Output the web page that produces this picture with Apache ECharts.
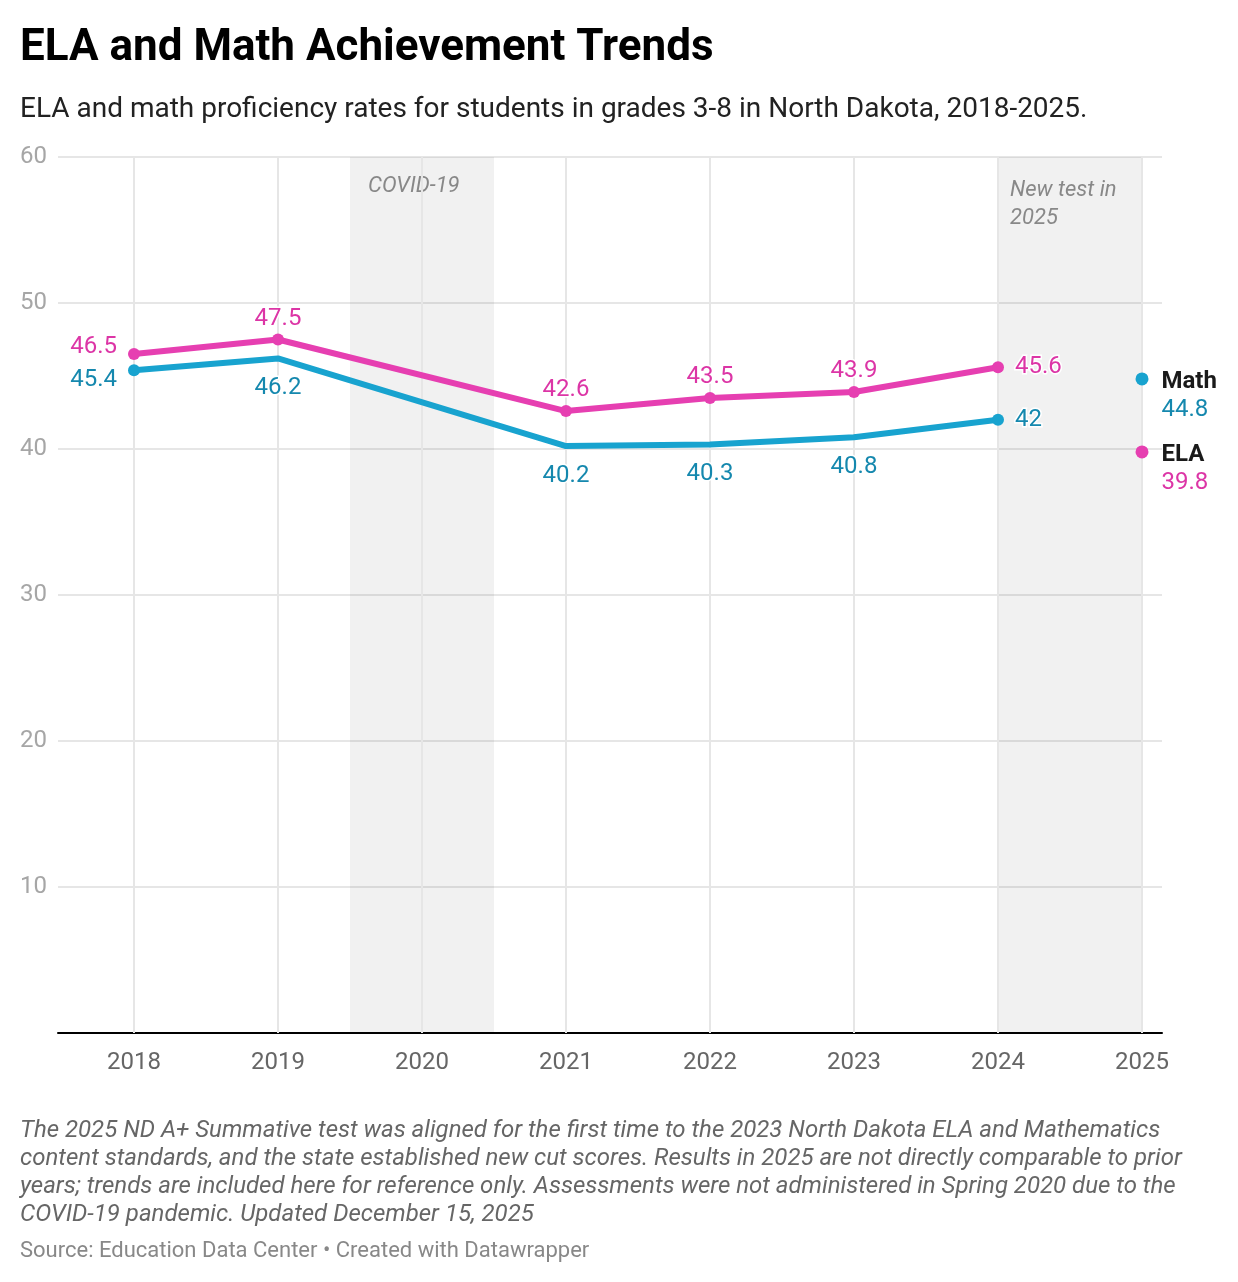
<!DOCTYPE html>
<html>
<head>
<meta charset="utf-8">
<script src="https://cdn.jsdelivr.net/npm/echarts@6.0.0/dist/echarts.min.js"></script>
<style>
  html, body { margin: 0; padding: 0; background: #fff; }
  #main { width: 1238px; height: 1282px; }
</style>
</head>
<body>
<div id="main"></div>
<script>
// data
var years = [2018, 2019, 2020, 2021, 2022, 2023, 2024, 2025];
var math = [45.4, 46.2, null, 40.2, 40.3, 40.8, 42, 44.8];
var ela = [46.5, 47.5, null, 42.6, 43.5, 43.9, 45.6, 39.8];
var yTicks = [0, 10, 20, 30, 40, 50, 60];
var covidBand = [2019.5, 2020.5];
var newTestBand = [2024, 2025];

var mathLine = '#18a3cf', mathText = '#1588ae';
var elaLine = '#e63fb1', elaText = '#dc35a6';
var font = 'Roboto';

// trend part is 2018-2024, 2025 is shown apart (new test)
function trend(values, side, dotsInside) {
    var out = [];
    for (var i = 0; i < years.length - 1; i++) {
        if (values[i] == null) continue;
        var pos = i === 0 ? 'left' : (i === years.length - 2 ? 'right' : side);
        var item = { value: [years[i], values[i]], label: { position: pos } };
        if (pos === 'left') item.label.offset = [0, side === 'top' ? -7 : 10];
        if (pos === 'left' || pos === 'right') item.label.distance = 11;
        if (pos === side && !dotsInside) {
            item.symbolSize = 5;
            item.label.distance = 15;
        }
        out.push(item);
    }
    return out;
}

function lastPoint(values, name) {
    var i = years.length - 1;
    return [{ value: [years[i], values[i]], name: name }];
}

function lineSeries(name, values, side, dotsInside, lineColor, textColor) {
    return {
        name: name,
        type: 'line',
        data: trend(values, side, dotsInside),
        connectNulls: true,
        symbol: 'circle',
        symbolSize: 12,
        showSymbol: true,
        lineStyle: { color: lineColor, width: 6 },
        itemStyle: { color: lineColor },
        label: {
            show: true,
            formatter: function (p) { return p.value[1]; },
            color: textColor,
            fontFamily: font,
            fontSize: 24,
            distance: 3,
            textBorderColor: '#fff',
            textBorderWidth: 3
        },
        emphasis: { disabled: true },
        z: 5
    };
}

function endSeries(name, values, lineColor, textColor) {
    return {
        name: name + ' 2025',
        type: 'scatter',
        data: lastPoint(values, name),
        symbol: 'circle',
        symbolSize: 13,
        itemStyle: { color: lineColor, opacity: 1 },
        label: {
            show: true,
            position: 'right',
            distance: 13,
            offset: [0, 17],
            formatter: function (p) { return '{n|' + p.name + '}\n{v|' + p.value[1] + '}'; },
            rich: {
                n: { fontFamily: font, fontSize: 24, fontWeight: 'bold', color: '#1a1a1a', lineHeight: 28 },
                v: { fontFamily: font, fontSize: 24, color: textColor, lineHeight: 28 }
            }
        },
        emphasis: { disabled: true },
        z: 5
    };
}

var bandLabel = { color: '#888', fontFamily: font, fontStyle: 'italic', fontSize: 22, lineHeight: 28 };

var option = {
    animation: false,
    backgroundColor: '#fff',
    textStyle: { fontFamily: font },
    title: [
        {
            text: 'ELA and Math Achievement Trends',
            left: 20, top: 27, padding: 0,
            textStyle: { fontFamily: font, fontSize: 44, fontWeight: 'bold', color: '#000' }
        },
        {
            text: 'ELA and math proficiency rates for students in grades 3-8 in North Dakota, 2018-2025.',
            left: 20, top: 96, padding: 0,
            textStyle: { fontFamily: font, fontSize: 28, fontWeight: 'normal', color: '#222' }
        },
        {
            text: 'The 2025 ND A+ Summative test was aligned for the first time to the 2023 North Dakota ELA and Mathematics\n' +
                  'content standards, and the state established new cut scores. Results in 2025 are not directly comparable to prior\n' +
                  'years; trends are included here for reference only. Assessments were not administered in Spring 2020 due to the\n' +
                  'COVID-19 pandemic. Updated December 15, 2025',
            left: 20, top: 1117, padding: 0,
            textStyle: { fontFamily: font, fontSize: 24, fontStyle: 'italic', fontWeight: 'normal', color: '#666', lineHeight: 28 }
        },
        {
            text: 'Source: Education Data Center \u2022 Created with Datawrapper',
            left: 20, top: 1240, padding: 0,
            textStyle: { fontFamily: font, fontSize: 22, fontWeight: 'normal', color: '#888' }
        }
    ],
    grid: { left: 58, right: 76, top: 157, bottom: 249 },
    xAxis: {
        type: 'value',
        min: 2018 - 76 / 144,
        max: 2025 + 20 / 144,
        axisLine: { show: true, onZero: true, lineStyle: { color: '#000', width: 2 } },
        axisTick: { show: false },
        splitLine: { show: false },
        axisLabel: {
            customValues: years,
            formatter: function (v) { return String(v); },
            color: '#666', fontFamily: font, fontSize: 24, margin: 18
        }
    },
    yAxis: {
        type: 'value',
        min: yTicks[0],
        max: yTicks[yTicks.length - 1],
        interval: 10,
        axisLine: { show: false },
        axisTick: { show: false },
        splitLine: { lineStyle: { color: '#e6e6e6', width: 2 } },
        axisLabel: {
            formatter: function (v) { return v === 0 ? '' : v; },
            color: '#a6a6a6', fontFamily: font, fontSize: 24, margin: 11,
            padding: [3, 0, 0, 0]
        }
    },
    series: [
        {
            name: 'grid',
            type: 'line',
            data: [],
            silent: true,
            markArea: {
                silent: true,
                itemStyle: { color: 'rgba(0,0,0,0.055)' },
                label: { position: 'insideTopLeft' },
                data: [
                    [{ xAxis: covidBand[0], name: 'COVID-19', label: Object.assign({ offset: [13, 10] }, bandLabel) },
                     { xAxis: covidBand[1] }],
                    [{ xAxis: newTestBand[0], name: 'New test in\n2025', label: Object.assign({ offset: [7, 14] }, bandLabel) },
                     { xAxis: newTestBand[1] }]
                ]
            },
            markLine: {
                silent: true,
                symbol: 'none',
                label: { show: false },
                lineStyle: { color: '#e6e6e6', width: 2, type: 'solid' },
                emphasis: { disabled: true },
                data: years.map(function (y) { return { xAxis: y }; })
            },
            z: 1
        },
        lineSeries('ELA', ela, 'top', true, elaLine, elaText),
        lineSeries('Math', math, 'bottom', false, mathLine, mathText),
        endSeries('Math', math, mathLine, mathText),
        endSeries('ELA', ela, elaLine, elaText)
    ]
};

var chart = echarts.init(document.getElementById('main'));
chart.setOption(option);
</script>
</body>
</html>
